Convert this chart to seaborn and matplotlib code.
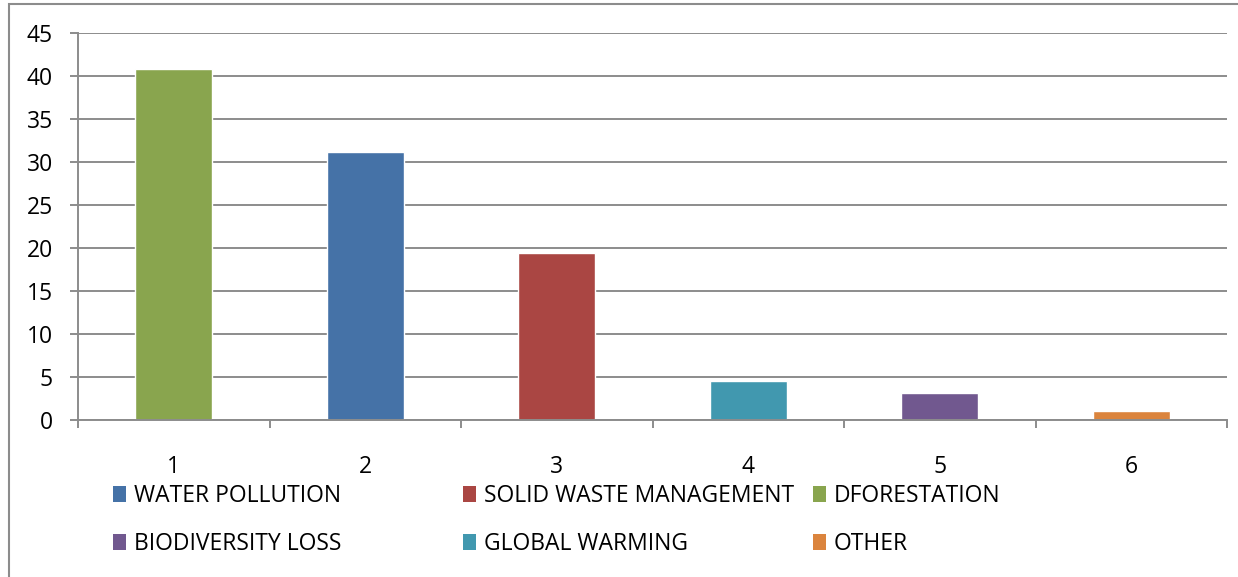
import matplotlib
matplotlib.use("Agg")
import matplotlib.pyplot as plt
from matplotlib.patches import Patch, Rectangle
import seaborn as sns
import pandas as pd

# Survey results: share of responses per environmental issue
categories = ["1", "2", "3", "4", "5", "6"]
issues = ["DFORESTATION", "WATER POLLUTION", "SOLID WASTE MANAGEMENT",
          "GLOBAL WARMING", "BIODIVERSITY LOSS", "OTHER"]
values = [40.8, 31.2, 19.4, 4.5, 3.1, 1.1]

# Legend is listed in row order
legend_order = ["WATER POLLUTION", "SOLID WASTE MANAGEMENT", "DFORESTATION",
                "BIODIVERSITY LOSS", "GLOBAL WARMING", "OTHER"]

colors = {
    "WATER POLLUTION": "#4572A7",
    "SOLID WASTE MANAGEMENT": "#AA4643",
    "DFORESTATION": "#89A54E",
    "BIODIVERSITY LOSS": "#71588F",
    "GLOBAL WARMING": "#4198AF",
    "OTHER": "#DB843D",
}

sns.set_theme(style="white")
plt.rcParams["font.family"] = ["Open Sans", "DejaVu Sans"]

GRAY = "#8c8c8c"
FS = 16.5
W, H = 1238, 577
fig = plt.figure(figsize=(W / 100, H / 100), dpi=100)
ax = fig.add_axes([78 / W, 1 - 420 / H, (1227 - 78) / W, (420 - 33) / H])

df = pd.DataFrame({"category": categories, "issue": issues, "value": values})
sns.barplot(data=df, x="category", y="value", hue="issue", palette=colors,
            dodge=False, width=0.4, saturation=1, legend=False, ax=ax)

ax.set_xlim(-0.5, 5.5)
ax.set_ylim(0, 45)
ax.set_yticks(range(0, 46, 5))
ax.set_xlabel("")
ax.set_ylabel("")

# Gridlines and axes
ax.yaxis.grid(True, color=GRAY, linewidth=1.4)
ax.set_axisbelow(True)
for side in ("top", "right"):
    ax.spines[side].set_visible(False)
for side in ("left", "bottom"):
    ax.spines[side].set_color(GRAY)
    ax.spines[side].set_linewidth(1.4)

ax.tick_params(axis="y", which="major", direction="out", length=6, width=1.4,
               color=GRAY, left=True, pad=12, labelsize=FS, labelcolor="black")
ax.set_xticks([i - 0.5 for i in range(7)], minor=True)
ax.tick_params(axis="x", which="minor", direction="out", length=6, width=1.4,
               color=GRAY, bottom=True)
ax.tick_params(axis="x", which="major", length=0, pad=25, labelsize=FS,
               labelcolor="black")

# Outer chart border
fig.patches.append(Rectangle((9 / W, -0.1), 1.2, 1.1 - 4 / H,
                             transform=fig.transFigure, fill=False,
                             edgecolor=GRAY, linewidth=1.5))

# Legend: three equal-width columns, two rows
col_x = [113, 463, 813]
for c in range(3):
    names = [legend_order[c], legend_order[c + 3]]
    handles = [Patch(facecolor=colors[n], edgecolor="none", label=n) for n in names]
    leg = fig.legend(handles=handles, loc="upper left",
                     bbox_to_anchor=(col_x[c] / W, 1 - 484 / H),
                     frameon=False, fontsize=FS, handlelength=0.55,
                     handleheight=0.7, handletextpad=0.35, borderpad=0,
                     borderaxespad=0, labelspacing=1.05)
    for t in leg.get_texts():
        t.set_color("black")

fig.savefig("out.png", dpi=100, facecolor="white")
